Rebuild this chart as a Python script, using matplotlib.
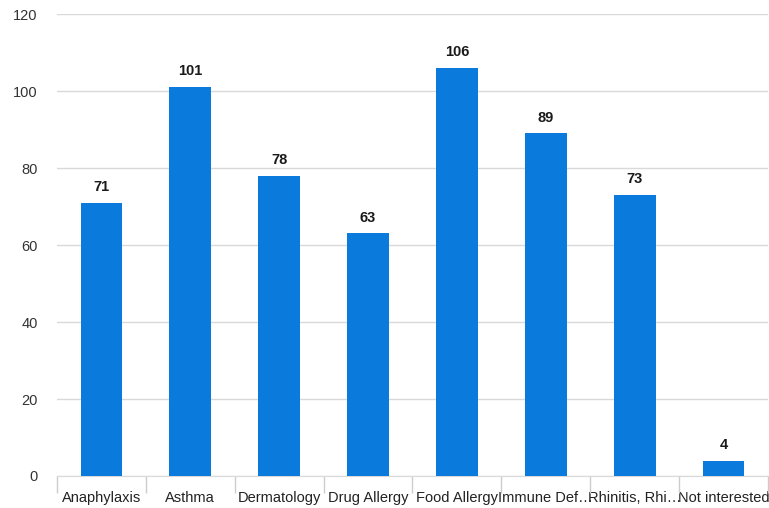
import matplotlib.pyplot as plt
import numpy as np

# données
categories = ["Anaphylaxis", "Asthma", "Dermatology", "Drug Allergy",
              "Food Allergy", "Immune Def\u2026", "Rhinitis, Rhi\u2026", "Not interested"]
valeurs = [71, 101, 78, 63, 106, 89, 73, 4]
y_ticks = [0, 20, 40, 60, 80, 100, 120]

plt.rcParams['font.family'] = ['Liberation Sans', 'DejaVu Sans']

fig = plt.figure(figsize=(7.69, 5.08), dpi=100)
ax = fig.add_axes([0.0741, 0.063, 0.9245, 0.9094])

x = np.arange(len(categories))
ax.bar(x, valeurs, width=0.47, color="#0a7bdc", zorder=3)

# étiquettes des valeurs
for xi, v in zip(x, valeurs):
    ax.text(xi, v + 2.3, str(v), ha="center", va="bottom",
            fontsize=10.5, fontweight="bold", color="#1a1a1a")

ax.set_xlim(-0.5, len(categories) - 0.5)
ax.set_ylim(0, 120)
ax.set_yticks(y_ticks)
ax.yaxis.grid(True, color="#d9d9d9", linewidth=1, zorder=0)

ax.set_xticks(x)
ax.set_xticklabels(categories)
ax.set_xticks(np.arange(len(categories) + 1) - 0.5, minor=True)
ax.tick_params(axis="x", which="major", length=0, pad=10.5, labelsize=10.5, labelcolor="#222222")
ax.tick_params(axis="x", which="minor", length=12, color="#cccccc", width=1)
ax.tick_params(axis="y", length=0, pad=14, labelsize=10.5, labelcolor="#333333")

for s in ["top", "right", "left"]:
    ax.spines[s].set_visible(False)
ax.spines["bottom"].set_color("#d9d9d9")

fig.savefig("out.png", dpi=100)
